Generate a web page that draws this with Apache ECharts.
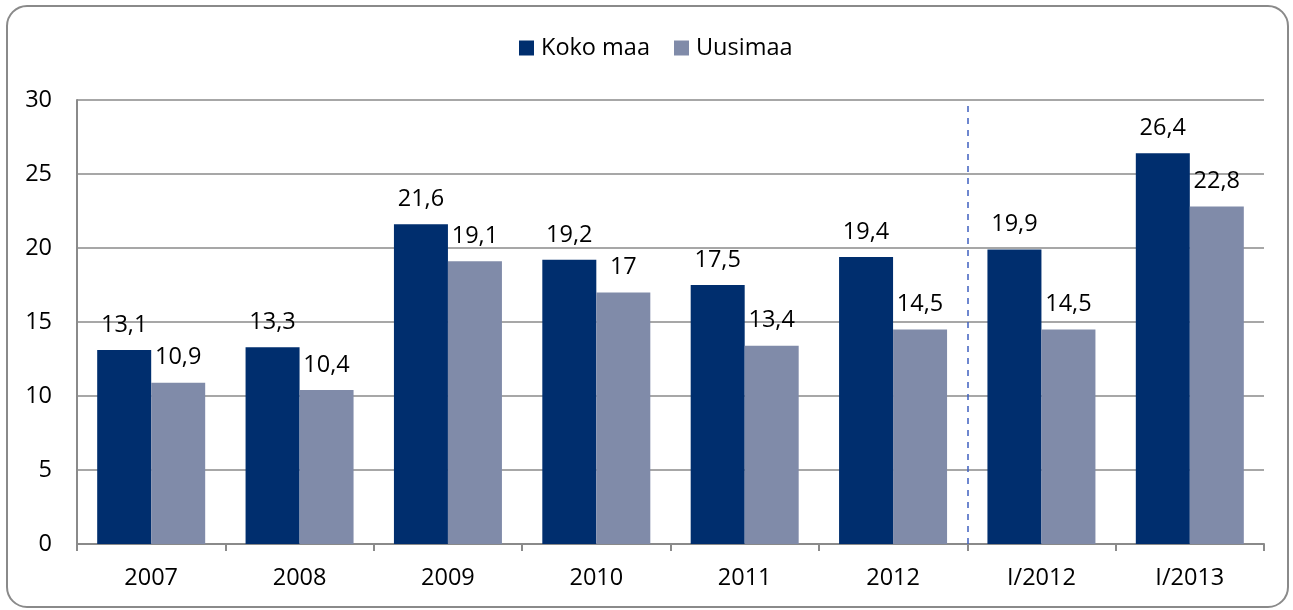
<!DOCTYPE html>
<html>
<head>
<meta charset="utf-8">
<script src="https://cdn.jsdelivr.net/npm/echarts@6/dist/echarts.min.js"></script>
<style>
html,body{margin:0;padding:0;background:#fff;}
#chart{width:1293px;height:610px;}
</style>
</head>
<body>
<div id="chart"></div>
<script>
const categories = ['2007', '2008', '2009', '2010', '2011', '2012', 'I/2012', 'I/2013'];
const kokoMaa = [13.1, 13.3, 21.6, 19.2, 17.5, 19.4, 19.9, 26.4];
const uusimaa = [10.9, 10.4, 19.1, 17, 13.4, 14.5, 14.5, 22.8];
const seriesNames = ['Koko maa', 'Uusimaa'];
const dividerPosition = 6; // boundary before 'I/2012' (in category units)

const FONT = '"Open Sans", "Noto Sans", sans-serif';
const FS = 23.5;
const fmt = p => String(p.value).replace('.', ',');

const chart = echarts.init(document.getElementById('chart'), null, {renderer: 'canvas'});
chart.setOption({
  animation: false,
  backgroundColor: '#ffffff',
  textStyle: {fontFamily: FONT},
  graphic: [{
    type: 'rect',
    shape: {x: 7, y: 6, width: 1281, height: 601, r: 20},
    style: {fill: 'none', stroke: '#8a8a8a', lineWidth: 2},
    silent: true,
    z: 0
  }],
  legend: {
    top: 31,
    left: 514,
    itemWidth: 15,
    itemHeight: 15,
    itemGap: 24,
    icon: 'rect',
    textStyle: {fontFamily: FONT, fontSize: FS, color: '#000', padding: [0, 0, 0, 2]},
    data: seriesNames
  },
  grid: {left: 77, right: 29, top: 100, bottom: 66, containLabel: false},
  xAxis: [{
    type: 'category',
    data: categories,
    boundaryGap: true,
    axisLine: {show: true, lineStyle: {color: '#8a8a8a', width: 2}},
    axisTick: {show: true, length: 7, lineStyle: {color: '#8a8a8a', width: 2}},
    axisLabel: {fontFamily: FONT, fontSize: FS, color: '#000', margin: 22},
    splitLine: {show: false}
  }, {
    type: 'value',
    min: 0,
    max: categories.length,
    show: false
  }],
  yAxis: {
    type: 'value',
    min: 0,
    max: 30,
    interval: 5,
    axisLine: {show: true, lineStyle: {color: '#8a8a8a', width: 2}},
    axisTick: {show: false},
    axisLabel: {fontFamily: FONT, fontSize: FS, color: '#000', margin: 25},
    splitLine: {show: true, lineStyle: {color: '#8a8a8a', width: 1.5}}
  },
  series: [
    {
      name: seriesNames[0],
      type: 'bar',
      data: kokoMaa,
      barWidth: 54,
      barGap: '0%',
      itemStyle: {color: '#002E6E'},
      label: {show: true, position: 'top', distance: 13, formatter: fmt,
              fontFamily: FONT, fontSize: FS, color: '#000'}
    },
    {
      name: seriesNames[1],
      type: 'bar',
      data: uusimaa,
      barWidth: 54,
      barGap: '0%',
      itemStyle: {color: '#808BA9'},
      label: {show: true, position: 'top', distance: 13, formatter: fmt,
              fontFamily: FONT, fontSize: FS, color: '#000'}
    },
    {
      name: 'divider',
      type: 'line',
      xAxisIndex: 1,
      data: [],
      silent: true,
      markLine: {
        silent: true,
        symbol: ['none', 'none'],
        label: {show: false},
        lineStyle: {color: '#3f60c0', type: [6, 6], width: 1.5},
        data: [{xAxis: dividerPosition}]
      }
    }
  ]
});
</script>
</body>
</html>
